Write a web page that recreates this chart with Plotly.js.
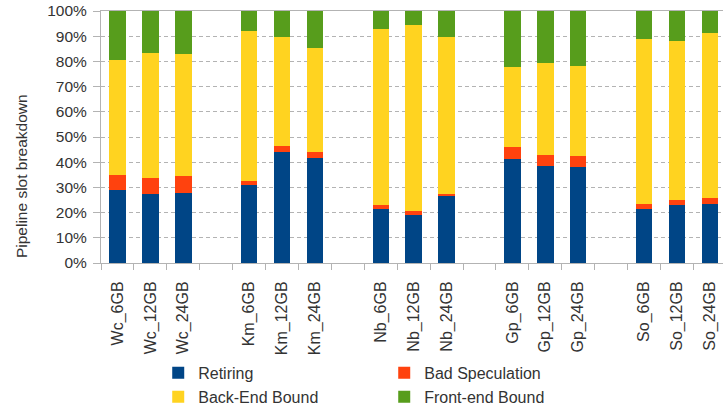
<!DOCTYPE html>
<html>
<head>
<meta charset="utf-8">
<script src="https://cdn.plot.ly/plotly-3.0.1.min.js"></script>
<style>
html,body{margin:0;padding:0;background:#fff;}
#chart{width:723px;height:412px;}
</style>
</head>
<body>
<div id="chart"></div>
<script>
// Categories (benchmark_memory), in groups of three
var categories = [
  'Wc_6GB','Wc_12GB','Wc_24GB',
  'Km_6GB','Km_12GB','Km_24GB',
  'Nb_6GB','Nb_12GB','Nb_24GB',
  'Gp_6GB','Gp_12GB','Gp_24GB',
  'So_6GB','So_12GB','So_24GB'
];
var groupSize = 3;

// Series values (% of pipeline slots)
var retiring = [28.9,27.4,27.8, 31.0,44.1,41.5, 21.6,19.2,26.5, 41.1,38.5,38.0, 21.5,23.0,23.4];
var badSpeculation = [6.2,6.5,6.8, 1.5,2.3,2.5, 1.3,1.3,0.8, 5.0,4.3,4.4, 1.8,2.2,2.2];
var backEndBound = [45.4,49.3,48.2, 59.7,43.1,41.2, 69.8,73.9,62.5, 31.8,36.4,35.7, 65.4,63.0,65.8];
var frontEndBound = [19.5,16.8,17.2, 7.8,10.5,14.8, 7.3,5.6,10.2, 22.1,20.8,21.9, 11.3,11.8,8.6];

var seriesNames = ['Retiring','Bad Speculation','Back-End Bound','Front-end Bound'];
var seriesColors = ['#004586','#ff420e','#ffd320','#579d1c'];
var yTickValues = [0,10,20,30,40,50,60,70,80,90,100];
var yTickText = yTickValues.map(function (v) { return v + '%'; });

// Insert empty spacer categories between the groups
function withSpacers(arr, isCat) {
  var out = [];
  var sp = 0;
  for (var i = 0; i < arr.length; i++) {
    if (i > 0 && i % groupSize === 0) {
      sp++;
      out.push(isCat ? ' '.repeat(sp) : null);
    }
    out.push(arr[i]);
  }
  return out;
}
var xCats = withSpacers(categories, true);
var seriesValues = [retiring, badSpeculation, backEndBound, frontEndBound];

var fam = '"Liberation Sans", Arial, sans-serif';
var txt = '#333333';

var traces = seriesValues.map(function (vals, k) {
  return {
    type: 'bar',
    name: seriesNames[k],
    x: xCats,
    y: withSpacers(vals, false),
    marker: {color: seriesColors[k], line: {width: 0}},
    hoverinfo: 'x+y+name'
  };
});

var layout = {
  width: 723,
  height: 412,
  margin: {l: 101, r: 0, t: 11, b: 149, autoexpand: false},
  paper_bgcolor: '#ffffff',
  plot_bgcolor: '#ffffff',
  barmode: 'stack',
  bargap: 0.5,
  font: {family: fam, size: 15.5, color: txt},
  showlegend: true,
  xaxis: {
    type: 'category',
    categoryorder: 'array',
    categoryarray: xCats,
    range: [-0.5, 18.4],
    tickmode: 'linear',
    dtick: 1,
    tickangle: -90,
    tickson: 'boundaries',
    ticks: 'outside',
    ticklen: 6,
    tickcolor: '#b3b3b3',
    ticklabelstandoff: 11,
    showgrid: false,
    showline: true,
    linecolor: '#b3b3b3',
    linewidth: 1,
    mirror: true,
    automargin: false,
    tickfont: {family: fam, size: 16, color: txt},
    fixedrange: true
  },
  yaxis: {
    range: [0, 100],
    tickmode: 'array',
    tickvals: yTickValues,
    ticktext: yTickText,
    ticks: 'outside',
    ticklen: 7,
    tickcolor: '#b3b3b3',
    ticklabelstandoff: 3,
    showgrid: true,
    gridcolor: '#b3b3b3',
    griddash: '4px,3px',
    gridwidth: 1,
    zeroline: false,
    showline: true,
    linecolor: '#b3b3b3',
    linewidth: 1,
    automargin: false,
    tickfont: {family: fam, size: 15.5, color: txt},
    fixedrange: true
  },
  legend: {
    orientation: 'h',
    traceorder: 'normal',
    x: 0.092,
    xanchor: 'left',
    yref: 'container',
    y: 0.136,
    yanchor: 'top',
    entrywidth: 181,
    entrywidthmode: 'pixels',
    font: {family: fam, size: 16, color: txt},
    bgcolor: 'rgba(0,0,0,0)',
    borderwidth: 0
  },
  annotations: [{
    text: 'Pipeline slot breakdown',
    xref: 'paper', yref: 'paper',
    x: -0.1286, y: 0.345,
    xanchor: 'center', yanchor: 'middle',
    textangle: -90,
    showarrow: false,
    font: {family: fam, size: 15.5, color: txt}
  }]
};

Plotly.newPlot('chart', traces, layout, {displayModeBar: false, staticPlot: true});
</script>
</body>
</html>
